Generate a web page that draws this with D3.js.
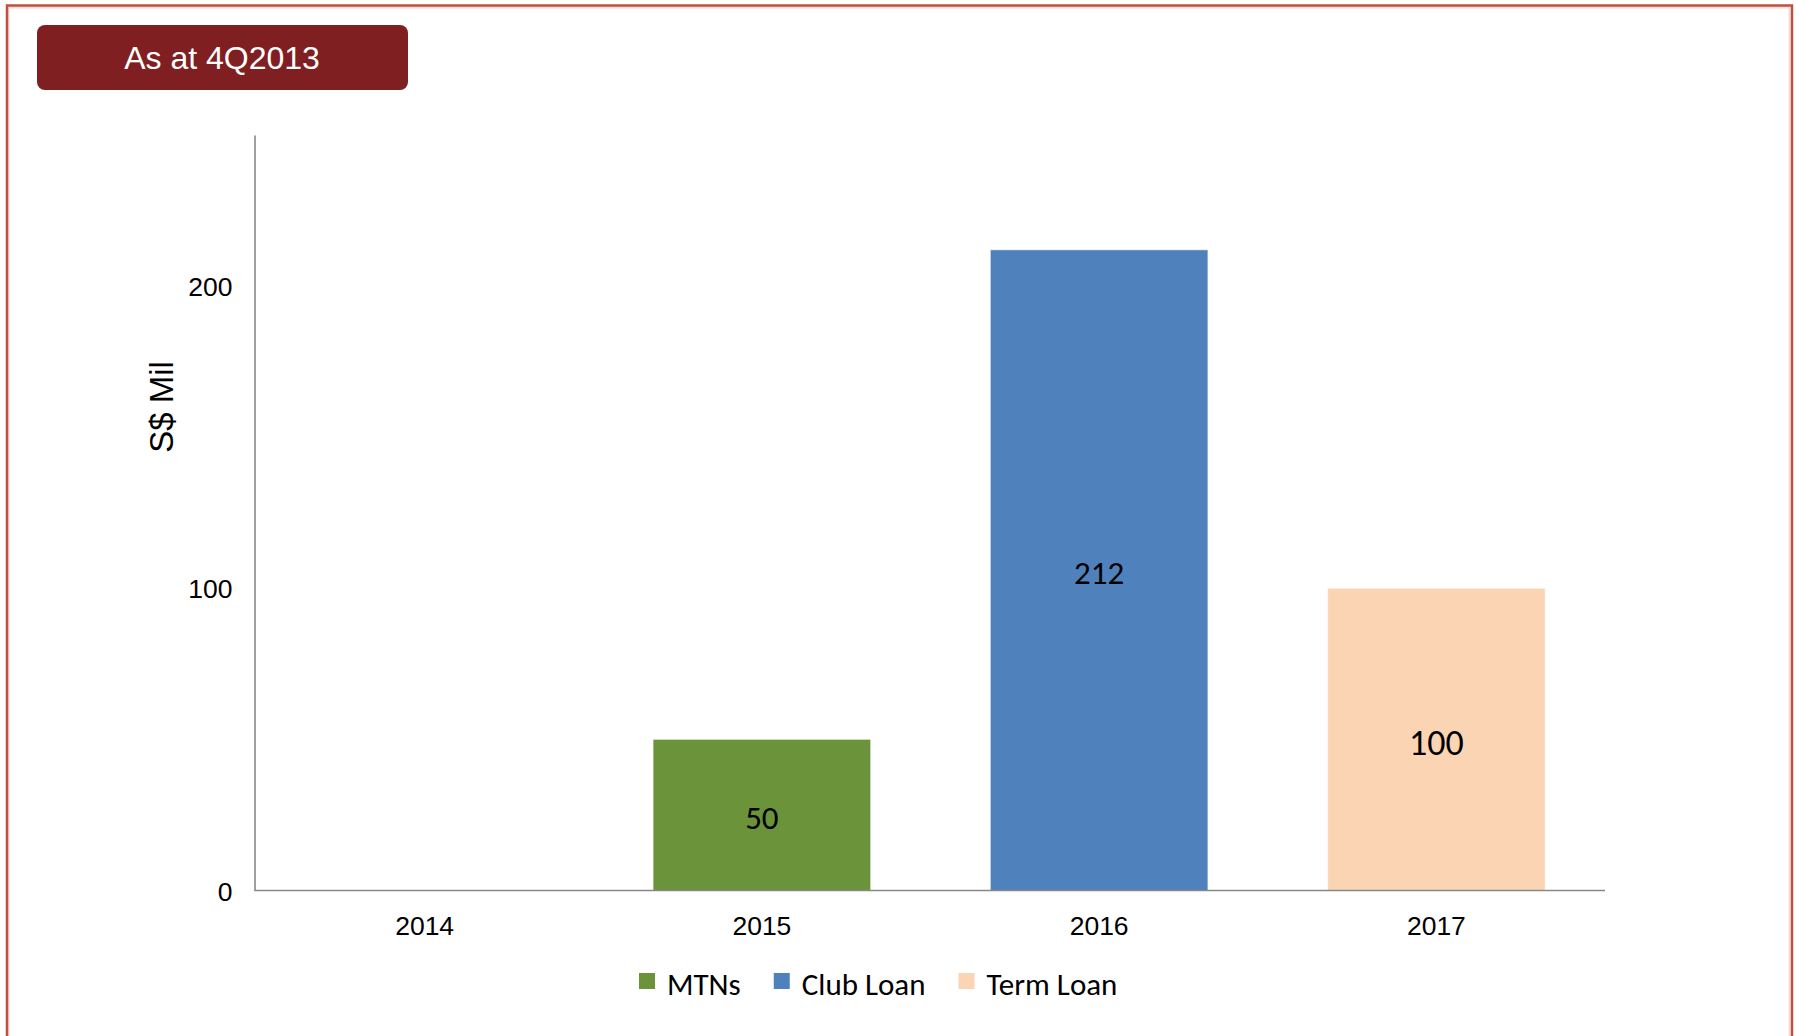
<!DOCTYPE html>
<html>
<head>
<meta charset="utf-8">
<script src="https://cdn.jsdelivr.net/npm/d3@7"></script>
<style>
  html, body { margin: 0; padding: 0; background: #ffffff; }
  svg { display: block; }
</style>
</head>
<body>
<svg id="chart" width="1796" height="1036"></svg>
<script>
// Debt maturity profile, S$ million
const years = ["2014", "2015", "2016", "2017"];
const seriesNames = ["MTNs", "Club Loan", "Term Loan"];
const mtns = [0, 50, 0, 0];
const clubLoan = [0, 0, 212, 0];
const termLoan = [0, 0, 0, 100];
const yTicks = [0, 100, 200];
const titleText = "As at 4Q2013";
const yTitle = "S$ Mil";

const colors = ["#6a933a", "#4f81bd", "#fbd4b4"];
const labelFont = "Carlito, 'Liberation Sans Narrow', 'DejaVu Sans Condensed', sans-serif";
const axisFont = "Arial, 'Liberation Sans', sans-serif";

const svg = d3.select("#chart");

// outer frame (open at the bottom edge of the page)
svg.append("rect")
  .attr("x", 8.5).attr("y", 7.5).attr("width", 1781).attr("height", 1100)
  .attr("fill", "none").attr("stroke", "#f2dcdb").attr("stroke-width", 2);
svg.append("rect")
  .attr("x", 7).attr("y", 5.5).attr("width", 1785).attr("height", 1100)
  .attr("fill", "none").attr("stroke", "#c0503e").attr("stroke-width", 2.5);

// heading badge
svg.append("rect")
  .attr("x", 37).attr("y", 25).attr("width", 371).attr("height", 65)
  .attr("rx", 8).attr("ry", 8)
  .attr("fill", "#7f1f22");
svg.append("text")
  .attr("x", 222).attr("y", 69)
  .attr("text-anchor", "middle")
  .attr("font-family", axisFont).attr("font-size", 32)
  .attr("fill", "#ffffff")
  .text(titleText);

// scales
const plot = { left: 254.5, right: 1605, top: 135, bottom: 890.5 };
const x = d3.scaleBand()
  .domain(years)
  .range([plot.left + 1.5, plot.right])
  .paddingInner(0.355)
  .paddingOuter(0.1775);
const y = d3.scaleLinear()
  .domain([0, 250])
  .range([plot.bottom, plot.top]);

// stacked data
const rows = years.map((yr, i) => ({
  year: yr,
  "MTNs": mtns[i],
  "Club Loan": clubLoan[i],
  "Term Loan": termLoan[i]
}));
const stacked = d3.stack().keys(seriesNames)(rows);

const layers = svg.append("g").selectAll("g")
  .data(stacked)
  .join("g")
  .attr("fill", (d, i) => colors[i]);

layers.selectAll("rect")
  .data(d => d.filter(s => s[1] - s[0] > 0))
  .join("rect")
  .attr("x", d => x(d.data.year))
  .attr("y", d => y(d[1]))
  .attr("width", x.bandwidth())
  .attr("height", d => y(d[0]) - y(d[1]))
  .attr("stroke", "#ffffff")
  .attr("stroke-opacity", 0.5)
  .attr("stroke-width", 1);

// value labels inside the bars
const labelSize = { "MTNs": 33, "Club Loan": 33, "Term Loan": 36 };
stacked.forEach(layer => {
  svg.append("g").selectAll("text")
    .data(layer.filter(s => s[1] - s[0] > 0))
    .join("text")
    .attr("x", d => x(d.data.year) + x.bandwidth() / 2)
    .attr("y", d => (y(d[0]) + y(d[1])) / 2)
    .attr("dy", "0.42em")
    .attr("text-anchor", "middle")
    .attr("font-family", labelFont)
    .attr("font-size", labelSize[layer.key])
    .attr("fill", "#000000")
    .text(d => d[1] - d[0]);
});

// axes
const yAxis = svg.append("g")
  .attr("transform", `translate(${plot.left},0)`)
  .call(d3.axisLeft(y).tickValues(yTicks).tickSize(0).tickSizeOuter(0).tickPadding(22));
const xAxis = svg.append("g")
  .attr("transform", `translate(0,${plot.bottom})`)
  .call(d3.axisBottom(x).tickSize(0).tickSizeOuter(0).tickPadding(26));
xAxis.select(".domain").attr("d", `M${plot.left},0H${plot.right}`);

[yAxis, xAxis].forEach(g => {
  g.select(".domain").attr("stroke", "#888888").attr("stroke-width", 1.6);
  g.selectAll("text")
    .attr("font-family", axisFont)
    .attr("font-size", 26.5)
    .attr("fill", "#000000");
});
yAxis.selectAll("text").attr("dy", "0.36em");

svg.append("text")
  .attr("transform", "translate(161,407) rotate(-90)")
  .attr("text-anchor", "middle")
  .attr("dy", "0.36em")
  .attr("font-family", axisFont)
  .attr("font-size", 33)
  .attr("fill", "#000000")
  .text(yTitle);

// legend
const legend = svg.append("g");
let lx = 639;
seriesNames.forEach((name, i) => {
  legend.append("rect")
    .attr("x", lx).attr("y", 973)
    .attr("width", 16).attr("height", 16)
    .attr("fill", colors[i]);
  const t = legend.append("text")
    .attr("x", lx + 28).attr("y", 995)
    .attr("font-family", labelFont)
    .attr("font-size", 31)
    .attr("fill", "#000000")
    .text(name);
  lx += 28 + t.node().getComputedTextLength() + 33;
});
</script>
</body>
</html>
